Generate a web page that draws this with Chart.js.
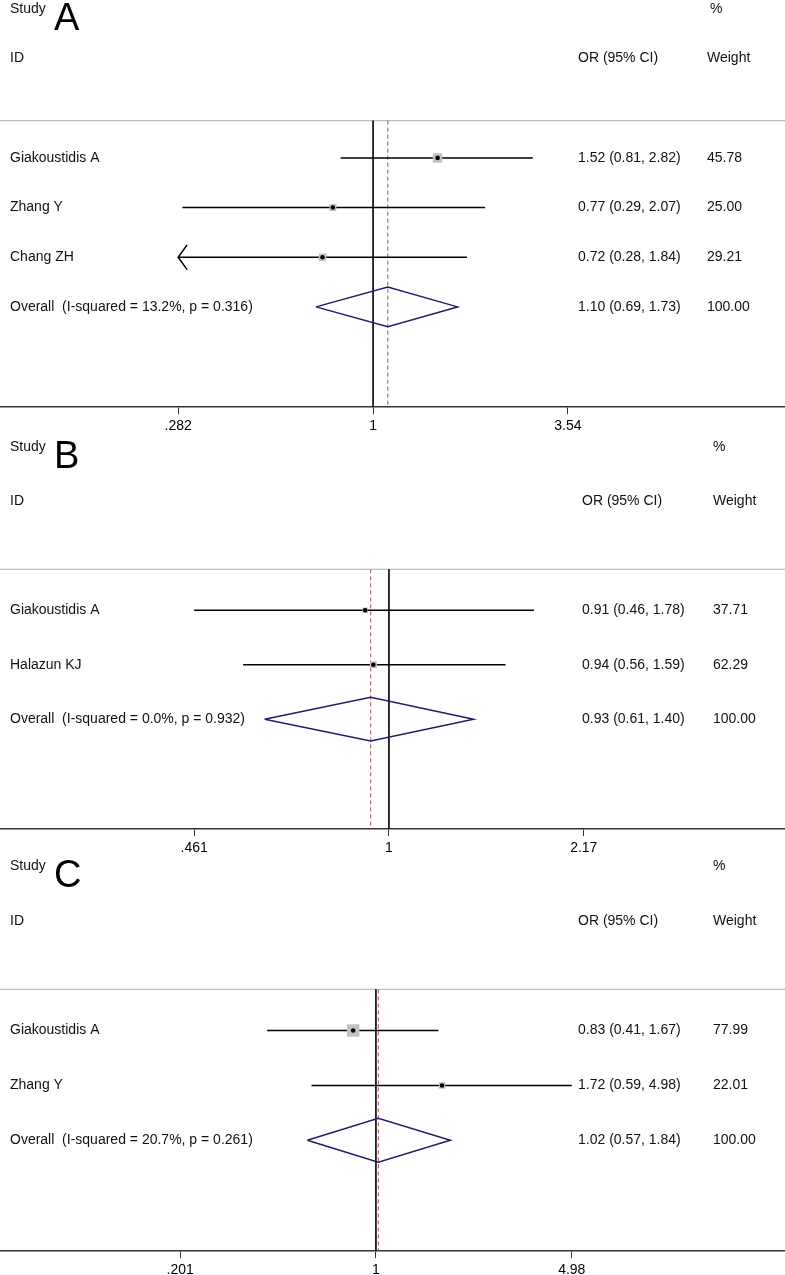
<!DOCTYPE html>
<html lang="en">
<head>
    <meta charset="UTF-8">
    <title>Forest plots A, B, C</title>
    <style>
        body {
            margin: 0;
            background: #fff;
            overflow: hidden;
        }

        .panel {
            position: absolute;
            left: 0;
            width: 785px;
        }
    </style>
</head>
<body>

    <div class="panel" style="top:0px"><canvas id="chartA" width="785" height="439"></canvas></div>
    <div class="panel" style="top:437px"><canvas id="chartB" width="785" height="424"></canvas></div>
    <div class="panel" style="top:856px"><canvas id="chartC" width="785" height="427"></canvas></div>

    <script src="https://cdn.jsdelivr.net/npm/chart.js"></script>
    <script>
        // Panel A
        const studiesA = ['Giakoustidis A', 'Zhang Y', 'Chang ZH'];
        const orA = [1.52, 0.77, 0.72];
        const lowA = [0.81, 0.29, 0.28];
        const highA = [2.82, 2.07, 1.84];
        const weightA = [45.78, 25.00, 29.21];
        const overallA = [1.10, 0.69, 1.73]; // estimate, low, high
        const overallLabelA = 'Overall  (I-squared = 13.2%, p = 0.316)';
        const tickValsA = [0.282, 1, 3.54];
        const tickLabelsA = ['.282', '1', '3.54'];

        // Panel B
        const studiesB = ['Giakoustidis A', 'Halazun KJ'];
        const orB = [0.91, 0.94];
        const lowB = [0.46, 0.56];
        const highB = [1.78, 1.59];
        const weightB = [37.71, 62.29];
        const overallB = [0.93, 0.61, 1.40];
        const overallLabelB = 'Overall  (I-squared = 0.0%, p = 0.932)';
        const tickValsB = [0.461, 1, 2.17];
        const tickLabelsB = ['.461', '1', '2.17'];

        // Panel C
        const studiesC = ['Giakoustidis A', 'Zhang Y'];
        const orC = [0.83, 1.72];
        const lowC = [0.41, 0.59];
        const highC = [1.67, 4.98];
        const weightC = [77.99, 22.01];
        const overallC = [1.02, 0.57, 1.84];
        const overallLabelC = 'Overall  (I-squared = 20.7%, p = 0.261)';
        const tickValsC = [0.201, 1, 4.98];
        const tickLabelsC = ['.201', '1', '4.98'];

        const FONT = '"Liberation Sans", Arial, sans-serif';

        // text columns in the plot area
        function textPlugin(p) {
            return {
                id: 'forestText' + p.letter,
                afterDatasetsDraw(chart) {
                    const ctx = chart.ctx;
                    const y = chart.scales.y;
                    ctx.save();
                    ctx.fillStyle = '#111';
                    ctx.textBaseline = 'middle';
                    ctx.font = '14px ' + FONT;
                    ctx.fillText('Study', 10, y.getPixelForValue(-2));
                    ctx.fillText('%', p.pctX, y.getPixelForValue(-2));
                    ctx.fillText('ID', 10, y.getPixelForValue(-1));
                    ctx.fillText('OR (95% CI)', p.orX, y.getPixelForValue(-1));
                    ctx.fillText('Weight', p.wX, y.getPixelForValue(-1));

                    p.studies.forEach((name, i) => {
                        const py = y.getPixelForValue(i + 1);
                        ctx.fillText(name, 10, py);
                        ctx.fillText(p.or[i].toFixed(2) + ' (' + p.low[i].toFixed(2) + ', ' + p.high[i].toFixed(2) + ')', p.orX, py);
                        ctx.fillText(p.weight[i].toFixed(2), p.wX, py);
                    });
                    const oy = y.getPixelForValue(p.studies.length + 1);
                    ctx.fillText(p.overallLabel, 10, oy);
                    ctx.fillText(p.overall[0].toFixed(2) + ' (' + p.overall[1].toFixed(2) + ', ' + p.overall[2].toFixed(2) + ')', p.orX, oy);
                    ctx.fillText('100.00', p.wX, oy);

                    // big panel letter
                    ctx.textBaseline = 'alphabetic';
                    ctx.font = '38px ' + FONT;
                    ctx.fillStyle = '#000';
                    ctx.fillText(p.letter, 54, y.getPixelForValue(-2) + 21);
                    ctx.restore();
                }
            };
        }

        function makePanel(p) {
            const rows = p.studies.length + 1; // studies + overall
            const yMin = -2.18;
            const yMax = rows + 2.02;
            const tMin = p.tickVals[0];
            const tMax = p.tickVals[p.tickVals.length - 1];
            const datasets = [];

            // grey line under the header
            datasets.push({
                type: 'line', order: 9,
                data: [{ x: p.xMin, y: 0.25 }, { x: p.xMax, y: 0.25 }],
                borderColor: '#bdbdbd', borderWidth: 1.3, pointRadius: 0
            });
            // line of no effect
            datasets.push({
                type: 'line', order: 8,
                data: [{ x: 1, y: 0.25 }, { x: 1, y: yMax }],
                borderColor: '#111', borderWidth: 1, pointRadius: 0
            });
            // overall estimate, dashed
            datasets.push({
                type: 'line', order: 7,
                data: [{ x: p.overall[0], y: 0.25 }, { x: p.overall[0], y: yMax }],
                borderColor: '#a3525a', borderWidth: 1, borderDash: [4, 3], pointRadius: 0
            });

            // confidence intervals (cut at the axis range, with an arrow)
            p.studies.forEach((name, i) => {
                const lo = Math.max(p.low[i], tMin);
                const hi = Math.min(p.high[i], tMax);
                datasets.push({
                    type: 'line', order: 5,
                    data: [{ x: lo, y: i + 1 }, { x: hi, y: i + 1 }],
                    borderColor: '#000', borderWidth: 1.5, pointRadius: 0
                });
                if (p.low[i] < tMin * 0.995) {
                    datasets.push({
                        type: 'line', order: 5,
                        data: [{ x: tMin * 1.06, y: i + 0.75 }, { x: tMin, y: i + 1 }, { x: tMin * 1.06, y: i + 1.25 }],
                        borderColor: '#000', borderWidth: 1.5, pointRadius: 0
                    });
                }
            });

            // weight boxes
            datasets.push({
                type: 'scatter', order: 4,
                data: p.or.map((v, i) => ({ x: v, y: i + 1 })),
                pointStyle: 'rect',
                pointRadius: p.weight.map(w => p.boxScale * Math.sqrt(w) / Math.SQRT2),
                backgroundColor: '#c2c2c2', borderWidth: 0
            });
            // point estimates
            datasets.push({
                type: 'scatter', order: 3,
                data: p.or.map((v, i) => ({ x: v, y: i + 1 })),
                pointStyle: 'circle', pointRadius: 2.3,
                backgroundColor: '#000', borderWidth: 0
            });
            // overall diamond
            const r = rows;
            datasets.push({
                type: 'line', order: 2,
                data: [
                    { x: p.overall[1], y: r },
                    { x: p.overall[0], y: r - 0.4 },
                    { x: p.overall[2], y: r },
                    { x: p.overall[0], y: r + 0.4 },
                    { x: p.overall[1], y: r }
                ],
                borderColor: '#1d1d6b', borderWidth: 1.5, pointRadius: 0, fill: false
            });

            const ctx = document.getElementById(p.canvas).getContext('2d');
            new Chart(ctx, {
                type: 'scatter',
                data: { datasets: datasets },
                options: {
                    responsive: false,
                    animation: false,
                    events: [],
                    layout: { padding: 0, autoPadding: false },
                    plugins: { legend: { display: false }, tooltip: { enabled: false } },
                    scales: {
                        x: {
                            type: 'logarithmic',
                            min: p.xMin,
                            max: p.xMax,
                            bounds: 'data',
                            afterBuildTicks: scale => {
                                scale.ticks = p.tickVals.map(v => ({ value: v }));
                            },
                            ticks: {
                                autoSkip: false,
                                maxRotation: 0,
                                padding: 4,
                                color: '#000',
                                font: { family: FONT, size: 14 },
                                callback: (value, index) => p.tickLabels[index]
                            },
                            grid: {
                                drawOnChartArea: false,
                                drawTicks: true,
                                tickLength: 7,
                                color: '#333',
                                lineWidth: 1
                            },
                            border: { display: true, color: '#333', width: 1.5 }
                        },
                        y: {
                            type: 'linear',
                            display: false,
                            reverse: true,
                            min: yMin,
                            max: yMax
                        }
                    }
                },
                plugins: [textPlugin(p)]
            });
        }

        makePanel({
            letter: 'A', canvas: 'chartA',
            studies: studiesA, or: orA, low: lowA, high: highA, weight: weightA,
            overall: overallA, overallLabel: overallLabelA,
            tickVals: tickValsA, tickLabels: tickLabelsA,
            xMin: 0.0887, xMax: 14.5, boxScale: 1.4,
            orX: 578, wX: 707, pctX: 710
        });
        makePanel({
            letter: 'B', canvas: 'chartB',
            studies: studiesB, or: orB, low: lowB, high: highB, weight: weightB,
            overall: overallB, overallLabel: overallLabelB,
            tickVals: tickValsB, tickLabels: tickLabelsB,
            xMin: 0.213, xMax: 4.83, boxScale: 0.9,
            orX: 582, wX: 713, pctX: 713
        });
        makePanel({
            letter: 'C', canvas: 'chartC',
            studies: studiesC, or: orC, low: lowC, high: highC, weight: weightC,
            overall: overallC, overallLabel: overallLabelC,
            tickVals: tickValsC, tickLabels: tickLabelsC,
            xMin: 0.0459, xMax: 28.6, boxScale: 1.4,
            orX: 578, wX: 713, pctX: 713
        });
    </script>
</body>
</html>
